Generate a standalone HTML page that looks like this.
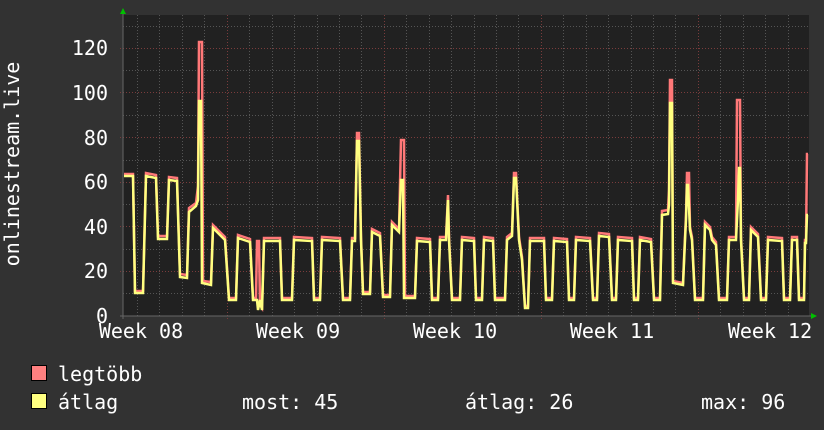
<!DOCTYPE html>
<html><head><meta charset="utf-8"><style>
html,body{margin:0;padding:0;background:#323232;}
svg{display:block;font-family:"DejaVu Sans Mono","Liberation Mono",monospace;}
</style></head><body>
<svg width="824" height="430" viewBox="0 0 824 430" xmlns="http://www.w3.org/2000/svg">
<rect width="824" height="430" fill="#323232"/>
<rect x="123" y="15" width="686" height="301" fill="#212121"/>
<g stroke="#555" stroke-width="1" stroke-dasharray="1,2" shape-rendering="crispEdges">
<line x1="123" x2="809" y1="293.5" y2="293.5"/><line x1="123" x2="809" y1="249.5" y2="249.5"/><line x1="123" x2="809" y1="204.5" y2="204.5"/><line x1="123" x2="809" y1="160.5" y2="160.5"/><line x1="123" x2="809" y1="115.5" y2="115.5"/><line x1="123" x2="809" y1="70.5" y2="70.5"/><line x1="123" x2="809" y1="26.5" y2="26.5"/>
<line y1="15" y2="316" x1="137.5" x2="137.5"/><line y1="15" y2="316" x1="159.5" x2="159.5"/><line y1="15" y2="316" x1="182.5" x2="182.5"/><line y1="15" y2="316" x1="204.5" x2="204.5"/><line y1="15" y2="316" x1="249.5" x2="249.5"/><line y1="15" y2="316" x1="272.5" x2="272.5"/><line y1="15" y2="316" x1="294.5" x2="294.5"/><line y1="15" y2="316" x1="317.5" x2="317.5"/><line y1="15" y2="316" x1="339.5" x2="339.5"/><line y1="15" y2="316" x1="361.5" x2="361.5"/><line y1="15" y2="316" x1="406.5" x2="406.5"/><line y1="15" y2="316" x1="429.5" x2="429.5"/><line y1="15" y2="316" x1="451.5" x2="451.5"/><line y1="15" y2="316" x1="474.5" x2="474.5"/><line y1="15" y2="316" x1="496.5" x2="496.5"/><line y1="15" y2="316" x1="518.5" x2="518.5"/><line y1="15" y2="316" x1="563.5" x2="563.5"/><line y1="15" y2="316" x1="586.5" x2="586.5"/><line y1="15" y2="316" x1="608.5" x2="608.5"/><line y1="15" y2="316" x1="631.5" x2="631.5"/><line y1="15" y2="316" x1="653.5" x2="653.5"/><line y1="15" y2="316" x1="675.5" x2="675.5"/><line y1="15" y2="316" x1="720.5" x2="720.5"/><line y1="15" y2="316" x1="743.5" x2="743.5"/><line y1="15" y2="316" x1="765.5" x2="765.5"/><line y1="15" y2="316" x1="788.5" x2="788.5"/>
</g>
<g stroke="#7a3c3c" stroke-width="1" stroke-dasharray="1,2" shape-rendering="crispEdges">
<line x1="120" x2="809" y1="271.5" y2="271.5"/><line x1="120" x2="809" y1="226.5" y2="226.5"/><line x1="120" x2="809" y1="182.5" y2="182.5"/><line x1="120" x2="809" y1="137.5" y2="137.5"/><line x1="120" x2="809" y1="92.5" y2="92.5"/><line x1="120" x2="809" y1="48.5" y2="48.5"/>
<line y1="15" y2="319" x1="227.5" x2="227.5"/><line y1="15" y2="319" x1="384.5" x2="384.5"/><line y1="15" y2="319" x1="541.5" x2="541.5"/><line y1="15" y2="319" x1="698.5" x2="698.5"/>
</g>
<line x1="120" x2="812" y1="316" y2="316" stroke="#666"/>
<line x1="123" x2="123" y1="12" y2="319" stroke="#666"/>
<polygon points="120,14 126,14 123,8" fill="#00c000"/>
<polygon points="811,313 811,319 817,316" fill="#00c000"/>
<g fill="none" stroke-width="2.5" stroke-linejoin="miter">
<polyline stroke="#ff7878" points="124,174 133,174 135,291 143,291 146,173 156,175 158,236 167,236 169,177 177,178 180,274 187,275 189,208 196,203 198,186 199,42 202,42 203,281 211,282 213,225 225,237 229,298 236,298 238,235 250,239 253,298 256,298 257,241 259,241 260,305 262,308 264,238 280,238 282,298 292,298 294,237 312,238 314,298 320,298 322,237 340,238 343,298 350,298 352,238 355,238 357,133 359,133 361,237 363,292 370,292 372,229 380,233 383,295 390,295 392,222 399,229 401,140 404,140 405,296 415,296 417,238 430,239 432,298 438,298 440,237 446,237 448,195 449,237 452,298 460,298 462,237 474,238 476,298 482,298 484,237 493,238 495,298 505,298 507,237 512,233 514,173 516,173 519,237 522,257 525,306 528,306 530,238 544,238 546,298 552,298 554,238 567,239 569,298 574,298 576,237 590,238 593,298 597,298 599,233 609,234 612,298 616,298 618,237 632,238 634,298 638,298 640,237 651,239 654,298 660,298 662,211 668,210 669,190 670,80 672,80 673,281 683,283 685,237 686,215 687,173 689,173 690,227 692,237 695,298 703,298 705,222 710,227 712,237 716,242 719,298 727,298 729,237 736,237 737,100 740,100 741,237 744,298 749,298 751,227 758,234 761,298 766,298 768,237 782,238 784,298 790,298 792,237 797,237 799,298 804,298 805,240 806,240 807,154 808,154"/>
<polyline stroke="#ffff80" points="124,176 133,176 135,293 143,293 146,176 156,178 158,239 167,239 169,180 177,181 180,277 187,278 189,212 196,206 198,200 199,101 201,101 202,283 211,285 213,228 225,240 229,300 236,300 238,238 250,242 253,300 257,300 258,310 260,300 262,310 264,241 280,241 282,300 292,300 294,240 312,241 314,300 320,300 322,240 340,241 343,300 350,300 352,241 355,241 357,141 359,141 361,240 363,294 370,294 372,232 380,236 383,297 390,297 392,225 399,232 401,180 403,180 404,298 415,298 417,241 430,242 432,300 438,300 440,240 446,240 448,200 449,240 452,300 460,300 462,240 474,241 476,300 482,300 484,240 493,241 495,300 505,300 507,240 512,236 514,178 516,178 519,240 522,260 525,308 528,308 530,241 544,241 546,300 552,300 554,241 567,242 569,300 574,300 576,240 590,241 593,300 597,300 599,236 609,237 612,300 616,300 618,240 632,241 634,300 638,300 640,240 651,242 654,300 660,300 662,215 668,214 669,205 670,103 672,103 673,283 683,285 685,240 686,220 687,185 688,185 690,230 692,240 695,300 703,300 705,225 710,230 712,240 716,245 719,300 727,300 729,240 736,240 738,200 739,168 740,168 741,240 744,300 749,300 751,230 758,237 761,300 766,300 768,240 782,241 784,300 790,300 792,240 797,240 799,300 804,300 805,243 806,243 807,215 808,215"/>
</g>
<g fill="#ffffff" font-size="20" text-anchor="end">
<text x="108" y="55">120</text><text x="108" y="100">100</text><text x="108" y="145">80</text><text x="108" y="189">60</text><text x="108" y="234">40</text><text x="108" y="278">20</text><text x="108" y="323">0</text>
</g>
<g fill="#ffffff" font-size="20" text-anchor="middle">
<text x="141" y="338">Week 08</text><text x="298" y="338">Week 09</text><text x="455" y="338">Week 10</text><text x="612" y="338">Week 11</text><text x="770" y="338">Week 12</text>
</g>
<text transform="translate(19,164) rotate(-90)" fill="#ffffff" font-size="20" text-anchor="middle">onlinestream.live</text>
<rect x="31.5" y="365.5" width="15" height="15" fill="#ff8080" stroke="#000"/>
<rect x="31.5" y="393.5" width="15" height="15" fill="#ffff80" stroke="#000"/>
<g fill="#ffffff" font-size="20">
<text x="58" y="381">legtöbb</text>
<text x="58" y="409">átlag</text>
<text x="242" y="409">most: 45</text>
<text x="465" y="409">átlag: 26</text>
<text x="701" y="409">max: 96</text>
</g>
</svg>
</body></html>
